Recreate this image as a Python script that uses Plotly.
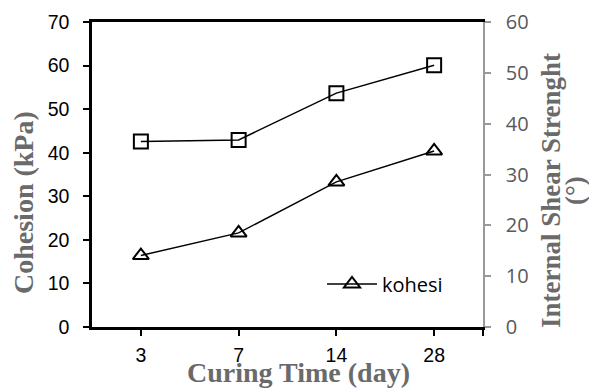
import plotly.graph_objects as go

days = ["3", "7", "14", "28"]
cohesion_kpa = [16.4, 21.6, 33.3, 40.4]
shear_angle_deg = [36.5, 36.8, 46.0, 51.5]
left_ticks = [0, 10, 20, 30, 40, 50, 60, 70]
right_ticks = [0, 10, 20, 30, 40, 50, 60]

xpos = list(range(len(days)))

fig = go.Figure()
fig.add_trace(go.Scatter(
    x=xpos, y=shear_angle_deg, yaxis="y2", mode="lines+markers", name="shear",
    showlegend=False,
    line=dict(color="black", width=1.4),
    marker=dict(symbol="square-open", size=14, color="black", line=dict(width=2, color="black")),
))
fig.add_trace(go.Scatter(
    x=xpos, y=cohesion_kpa, yaxis="y", mode="lines+markers", name="kohesi",
    line=dict(color="black", width=1.4),
    marker=dict(symbol="triangle-up-open", size=14, color="black", line=dict(width=2, color="black")),
))

title_font = dict(family="Liberation Serif", size=28, color="#6a6a6a")

fig.update_layout(
    width=589, height=388,
    margin=dict(l=92, r=106, t=22, b=61, autoexpand=False),
    paper_bgcolor="white", plot_bgcolor="white",
    showlegend=True,
    legend=dict(x=(322 - 92) / 391, xanchor="left", y=(327 - 284) / 305, yanchor="middle",
                itemwidth=50,
                font=dict(family="Open Sans", size=20, color="black"),
                bgcolor="rgba(0,0,0,0)", borderwidth=0),
    xaxis=dict(
        range=[-0.5, 3.5], tickvals=xpos + [3.5], ticktext=days + [""],
        showline=True, linecolor="black", linewidth=2.5, mirror=True,
        ticks="outside", ticklen=6, tickwidth=1.5, tickcolor="black",
        showgrid=False, zeroline=False, automargin=False,
        tickfont=dict(family="Liberation Sans", size=19.5, color="black"),
        ticklabelstandoff=3,
    ),
    yaxis=dict(
        range=[0, 70], tickvals=left_ticks,
        showline=True, linecolor="black", linewidth=2.5,
        ticks="outside", ticklen=6, tickwidth=2, tickcolor="black",
        showgrid=False, zeroline=False, automargin=False,
        tickfont=dict(family="Liberation Sans", size=19.5, color="black"),
        ticklabelstandoff=10,
    ),
    yaxis2=dict(
        range=[0, 60], tickvals=right_ticks, overlaying="y", side="right",
        showline=True, linecolor="#999999", linewidth=1.5,
        ticks="outside", ticklen=6, tickwidth=1.5, tickcolor="#999999",
        showgrid=False, zeroline=False, automargin=False,
        tickfont=dict(family="Open Sans", size=20, color="#595959"),
        ticklabelstandoff=11,
    ),
    annotations=[
        dict(text="<b>Cohesion (kPa)</b>", textangle=-90, xref="paper", yref="paper",
             x=(24 - 92) / 391, y=(327 - 203) / 305, xanchor="center", yanchor="middle",
             showarrow=False, font=title_font),
        dict(text="<b>Curing Time (day)</b>", xref="paper", yref="paper",
             x=(298 - 92) / 391, y=(327 - 373) / 305, xanchor="center", yanchor="middle",
             showarrow=False, font=title_font),
        dict(text="<b>Internal Shear Strenght</b>", textangle=-90, xref="paper", yref="paper",
             x=(551 - 92) / 391, y=(327 - 191) / 305, xanchor="center", yanchor="middle",
             showarrow=False, font=dict(family="Liberation Serif", size=27, color="#6a6a6a")),
        dict(text="<b>(°)</b>", textangle=-90, xref="paper", yref="paper",
             x=(575 - 92) / 391, y=(327 - 191) / 305, xanchor="center", yanchor="middle",
             showarrow=False, font=dict(family="Liberation Serif", size=27, color="#6a6a6a")),
    ],
)

fig.write_html(
    "out.html",
    config={"displayModeBar": False},
    post_script="document.body.style.margin='0';document.body.style.padding='0';"
                "document.body.style.overflow='hidden';",
)
